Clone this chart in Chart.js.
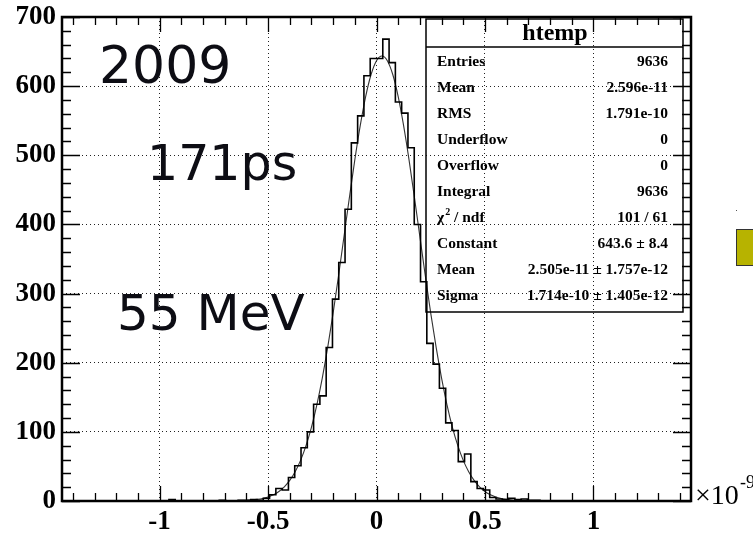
<!DOCTYPE html>
<html>
<head>
<meta charset="utf-8">
<script src="https://cdn.jsdelivr.net/npm/chart.js@4.4.1/dist/chart.umd.min.js"></script>
<style>
  html, body { margin: 0; padding: 0; background: #fff; }
  #wrap { width: 753px; height: 534px; }
</style>
</head>
<body>
<div id="wrap"><canvas id="c" width="753" height="534"></canvas></div>
<script>
// histogram: 100 bins from -1.45 to 1.45 (x10^-9)
const binLow = -1.45;
const binWidth = 0.029;
const counts = [
  0, 0, 0, 0, 0, 0, 0, 0, 0, 0, 0, 0, 0, 0, 0, 0, 0, 2, 0, 0,
  0, 0, 0, 0, 0, 1, 0, 0, 1, 1, 2, 1, 4, 9, 18, 16, 34, 51, 77, 100,
  140, 152, 222, 292, 345, 422, 518, 557, 615, 640, 640, 668, 634, 577, 561, 511, 400, 317, 228, 198,
  163, 113, 102, 57, 68, 28, 18, 16, 5, 3, 2, 4, 2, 3, 1, 1, 0, 0, 0, 0,
  0, 0, 0, 0, 0, 0, 0, 0, 0, 0, 0, 0, 0, 0, 0, 0, 0, 0, 0, 0
];

// gaussian fit curve
const fitX = [-0.65, -0.625, -0.6, -0.575, -0.55, -0.525, -0.5, -0.475, -0.45, -0.425,
  -0.4, -0.375, -0.35, -0.325, -0.3, -0.275, -0.25, -0.225, -0.2, -0.175,
  -0.15, -0.125, -0.1, -0.075, -0.05, -0.025, 0, 0.025, 0.05, 0.075,
  0.1, 0.125, 0.15, 0.175, 0.2, 0.225, 0.25, 0.275, 0.3, 0.325,
  0.35, 0.375, 0.4, 0.425, 0.45, 0.475, 0.5, 0.525, 0.55, 0.575,
  0.6, 0.625, 0.65, 0.675, 0.7];
const fitY = [0.3, 0.5, 0.8, 1.4, 2.3, 3.7, 5.9, 9.1, 13.8, 20.5,
  29.8, 42.3, 58.7, 80, 106.6, 139.1, 177.7, 222.1, 271.8, 325.8,
  382.2, 438.8, 493.3, 542.8, 584.8, 616.8, 636.8, 643.6, 636.8, 616.8,
  584.8, 542.8, 493.3, 438.8, 382.2, 325.8, 271.8, 222.1, 177.7, 139.1,
  106.6, 80, 58.7, 42.3, 29.8, 20.5, 13.8, 9.1, 5.9, 3.7,
  2.3, 1.4, 0.8, 0.5, 0.3];

const statLabels = ['Entries', 'Mean', 'RMS', 'Underflow', 'Overflow', 'Integral', 'chi2', 'Constant', 'Mean', 'Sigma'];
const statValues = ['9636', '2.596e-11', '1.791e-10', '0', '0', '9636', '101 / 61', '643.6 \u00b1 8.4', '2.505e-11 \u00b1 1.757e-12', '1.714e-10 \u00b1 1.405e-12'];

const histPoints = counts.map((c, i) => ({ x: binLow + i * binWidth, y: c }));
histPoints.push({ x: binLow + counts.length * binWidth, y: 0 });
const fitPoints = fitX.map((x, i) => ({ x: x, y: fitY[i] }));

const serif = "'Liberation Serif', 'Times New Roman', serif";
const sans = "'DejaVu Sans', Verdana, sans-serif";

const decor = {
  id: 'decor',
  afterDraw(chart) {
    const { ctx, chartArea: a, scales: { x, y } } = chart;
    ctx.save();

    // inside ticks on all four sides
    ctx.strokeStyle = '#000';
    ctx.lineWidth = 1.3;
    ctx.beginPath();
    for (let v = 0; v <= 700; v += 20) {
      const py = Math.round(y.getPixelForValue(v)) + 0.5;
      const len = v % 100 === 0 ? 18 : 9;
      ctx.moveTo(a.left, py); ctx.lineTo(a.left + len, py);
      ctx.moveTo(a.right, py); ctx.lineTo(a.right - len, py);
    }
    for (let i = -14; i <= 14; i++) {
      const px = Math.round(x.getPixelForValue(i / 10)) + 0.5;
      const len = i % 5 === 0 ? 15 : 8;
      ctx.moveTo(px, a.bottom); ctx.lineTo(px, a.bottom - len);
      ctx.moveTo(px, a.top); ctx.lineTo(px, a.top + len);
    }
    ctx.stroke();

    // frame
    ctx.lineWidth = 2.5;
    ctx.strokeRect(a.left, a.top, a.right - a.left, a.bottom - a.top);

    // stats box
    const bx = 426, by = 19, bw = 257, bh = 293;
    ctx.lineWidth = 1.5;
    ctx.strokeRect(bx, by, bw, bh);
    ctx.beginPath();
    ctx.moveTo(bx, 47); ctx.lineTo(bx + bw, 47);
    ctx.stroke();
    ctx.fillStyle = '#000';
    ctx.textBaseline = 'middle';
    ctx.textAlign = 'center';
    ctx.font = 'bold 24px ' + serif;
    ctx.fillText('htemp', 555, 34);
    ctx.font = 'bold 15.5px ' + serif;
    statLabels.forEach((lab, i) => {
      const ry = 62 + i * 26;
      ctx.textAlign = 'left';
      if (lab === 'chi2') {
        ctx.fillText('\u03c7', 437, ry);
        const w = ctx.measureText('\u03c7').width;
        ctx.font = 'bold 10px ' + serif;
        ctx.fillText('2', 437 + w + 1, ry - 6);
        ctx.font = 'bold 15.5px ' + serif;
        ctx.fillText(' / ndf', 437 + w + 6, ry);
      } else {
        ctx.fillText(lab, 437, ry);
      }
      ctx.textAlign = 'right';
      ctx.fillText(statValues[i], 668, ry);
    });

    // axis multiplier
    ctx.textAlign = 'left';
    ctx.textBaseline = 'alphabetic';
    ctx.font = '28px ' + serif;
    ctx.fillText('\u00d710', 695, 504);
    ctx.font = '18px ' + serif;
    ctx.fillText('-9', 740, 488);

    // slide labels
    ctx.fillStyle = '#0d0d14';
    ctx.font = '52px ' + sans;
    ctx.fillText('2009', 99, 83);
    ctx.font = '49px ' + sans;
    ctx.fillText('171ps', 147, 180);
    ctx.font = '50px ' + sans;
    ctx.fillText('55 MeV', 117, 330);

    // stray slide element at right edge
    ctx.fillStyle = '#b7b300';
    ctx.fillRect(736, 229, 20, 37);
    ctx.strokeStyle = '#333';
    ctx.lineWidth = 1;
    ctx.strokeRect(736.5, 229.5, 20, 36);
    ctx.fillStyle = '#555';
    ctx.fillRect(736, 210, 1, 1);

    ctx.restore();
  }
};

const tickFont = { family: serif, weight: 'bold', size: 27, lineHeight: 1 };

new Chart(document.getElementById('c'), {
  type: 'line',
  data: {
    datasets: [
      {
        label: 'htemp',
        data: histPoints,
        stepped: 'before',
        borderColor: '#000',
        borderWidth: 1.6,
        pointRadius: 0,
        fill: false
      },
      {
        label: 'fit',
        data: fitPoints,
        borderColor: '#333',
        borderWidth: 1.1,
        pointRadius: 0,
        tension: 0.4,
        cubicInterpolationMode: 'monotone',
        fill: false
      }
    ]
  },
  options: {
    responsive: false,
    animation: false,
    devicePixelRatio: 1,
    layout: { padding: { left: 0, right: 62, top: 17, bottom: 0 } },
    plugins: { legend: { display: false }, tooltip: { enabled: false } },
    scales: {
      x: {
        type: 'linear',
        min: -1.45,
        max: 1.45,
        afterFit: (s) => { s.height = 33; s.paddingLeft = 0; s.paddingRight = 0; },
        ticks: {
          stepSize: 0.5,
          includeBounds: false,
          color: '#000',
          font: tickFont,
          padding: 8,
          maxRotation: 0,
          callback: (v) => String(Math.round(v * 100) / 100)
        },
        grid: {
          drawTicks: false,
          color: '#222',
          lineWidth: 1
        },
        border: { display: false, dash: [1, 3] }
      },
      y: {
        min: 0,
        max: 700,
        afterFit: (s) => { s.width = 62; s.paddingTop = 0; s.paddingBottom = 0; },
        ticks: {
          stepSize: 100,
          color: '#000',
          font: tickFont,
          padding: 6
        },
        grid: {
          drawTicks: false,
          color: (c) => (c.tick && (c.tick.value === 0 || c.tick.value === 700)) ? 'rgba(0,0,0,0)' : '#222',
          lineWidth: 1
        },
        border: { display: false, dash: [1, 3] }
      }
    }
  },
  plugins: [decor]
});
</script>
</body>
</html>
